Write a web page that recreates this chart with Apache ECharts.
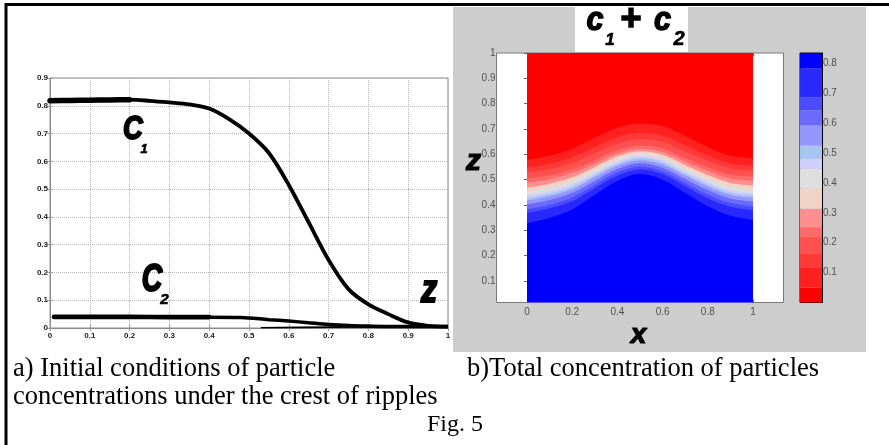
<!DOCTYPE html>
<html><head><meta charset="utf-8">
<script src="https://cdn.jsdelivr.net/npm/echarts@6/dist/echarts.min.js"></script>
<style>html,body{margin:0;padding:0;background:#fff}#c{width:889px;height:445px}</style>
</head><body><div id="c"></div>
<script>
// ---- Left panel: initial concentration profiles vs z ----
const zVals  = [0,0.05,0.1,0.15,0.2,0.25,0.3,0.35,0.4,0.45,0.5,0.55,0.6,0.65,0.7,0.75,0.8,0.85,0.9,0.95,1];
const c1Vals = [0.818,0.819,0.82,0.821,0.822,0.818,0.812,0.805,0.79,0.752,0.70,0.63,0.515,0.38,0.245,0.14,0.085,0.05,0.02,0.008,0.005];
const c2Z    = [0.01,0.1,0.2,0.3,0.4,0.48,0.55,0.6,0.65,0.7,0.75,0.8,0.9,1];
const c2Vals = [0.04,0.04,0.04,0.039,0.039,0.038,0.03,0.025,0.019,0.013,0.009,0.007,0.005,0.005];
const c3Z    = [0.53,0.7,1];
const c3Vals = [0.001,0.003,0.005];

// ---- Right panel: contour boundaries of c1+c2 (z of each level at x) ----
const heatX = [0,0.1,0.2,0.3,0.4,0.5,0.6,0.7,0.8,0.9,1];
const contourZ = [
  [.578,.594,.622,.665,.705,.722,.712,.672,.628,.594,.585],
  [.548,.563,.589,.629,.668,.685,.674,.636,.596,.564,.556],
  [.528,.542,.566,.604,.642,.660,.649,.611,.574,.544,.536],
  [.503,.517,.540,.578,.617,.635,.623,.585,.549,.520,.512],
  [.488,.502,.526,.564,.603,.622,.609,.571,.534,.505,.497],
  [.468,.484,.509,.550,.592,.612,.598,.557,.518,.487,.478],
  [.453,.469,.495,.539,.582,.603,.588,.546,.505,.473,.463],
  [.438,.455,.482,.527,.571,.593,.577,.534,.492,.459,.448],
  [.428,.445,.472,.518,.563,.585,.569,.525,.482,.450,.439],
  [.418,.435,.462,.509,.555,.577,.560,.516,.473,.440,.429],
  [.403,.420,.448,.495,.542,.565,.547,.503,.459,.426,.414],
  [.383,.401,.430,.479,.528,.552,.533,.487,.441,.408,.395],
  [.368,.387,.415,.466,.515,.540,.521,.474,.427,.393,.380],
  [.328,.349,.382,.440,.495,.522,.500,.448,.395,.357,.341]
];
const bandColors = ['#ff0000','#ff2020','#ff3838','#ff5050','#ff6a6a','#ff8f8f','#f2d4c6','#dedede',
                    '#cfcfff','#a8c4f0','#9696ff','#6a6aff','#4c4cff','#2828ff','#0000ff'];
const cbEdges = [0,0.05,0.118,0.163,0.219,0.252,0.314,0.381,0.448,0.481,0.526,0.593,0.643,0.687,0.783,0.835];
const heatXTicks = [0,0.2,0.4,0.6,0.8,1];
const heatZTicks = [0.1,0.2,0.3,0.4,0.5,0.6,0.7,0.8,0.9,1];

const pairs = (xs, ys) => xs.map((x, i) => [x, ys[i]]);
const chart = echarts.init(document.getElementById('c'), null, {renderer: 'canvas'});

const leftLbl = {fontSize: 8, fontWeight: 'bold', color: '#1a1a1a', fontFamily: 'Liberation Sans'};
const heatLbl = {fontSize: 10, color: '#505050', fontFamily: 'Liberation Sans'};
const inTick = (c) => ({show: true, inside: true, length: 3, lineStyle: {color: c || '#777'}});

const series = [];
// left panel lines
series.push({type: 'line', xAxisIndex: 0, yAxisIndex: 0, data: pairs(zVals, c1Vals), smooth: 0.3,
  symbol: 'none', lineStyle: {color: '#000', width: 3.8}, z: 5});
series.push({type: 'line', xAxisIndex: 0, yAxisIndex: 0, data: pairs(zVals.slice(0, 5), c1Vals.slice(0, 5)), smooth: 0.3,
  symbol: 'none', lineStyle: {color: '#000', width: 5.5, cap: 'round'}, z: 5});
series.push({type: 'line', xAxisIndex: 0, yAxisIndex: 0, data: pairs(c2Z, c2Vals), smooth: 0.3,
  symbol: 'none', lineStyle: {color: '#000', width: 3.5}, z: 5});
series.push({type: 'line', xAxisIndex: 0, yAxisIndex: 0, data: pairs(c2Z.slice(0, 5), c2Vals.slice(0, 5)), smooth: 0.3,
  symbol: 'none', lineStyle: {color: '#000', width: 4.6, cap: 'round'}, z: 5});
series.push({type: 'line', xAxisIndex: 0, yAxisIndex: 0, data: pairs(c3Z, c3Vals), smooth: 0.3,
  symbol: 'none', lineStyle: {color: '#000', width: 1.6}, z: 5});

// right panel filled contour bands
series.push({type: 'line', xAxisIndex: 2, yAxisIndex: 2, data: heatX.map(x => [x, 1]), symbol: 'none',
  lineStyle: {width: 0, opacity: 0}, areaStyle: {color: bandColors[0], opacity: 1, origin: 'start'}, silent: true});
contourZ.forEach((row, k) => {
  series.push({type: 'line', xAxisIndex: 2, yAxisIndex: 2, data: pairs(heatX, row), symbol: 'none', smooth: 0.35,
    lineStyle: {width: 0, opacity: 0}, areaStyle: {color: bandColors[k + 1], opacity: 1, origin: 'start'}, silent: true});
});
// colorbar
bandColors.forEach((col, i) => {
  series.push({type: 'bar', xAxisIndex: 4, yAxisIndex: 4, stack: 'cb', barWidth: '100%',
    data: [cbEdges[i + 1] - cbEdges[i]], itemStyle: {color: col}, silent: true});
});

const txt = (s, x, y, size, opts, sw) => Object.assign({
  type: 'text', x: x, y: y, z: 100,
  style: {text: s, x: 0, y: 0, align: 'center', verticalAlign: 'middle',
    font: 'italic bold ' + size + 'px "Liberation Sans"', fill: '#000', stroke: '#000', lineWidth: sw === undefined ? 1.2 : sw}
}, opts || {});
const cap = (s, x, y, align, size) => ({
  type: 'text', x: x, y: y, z: 100,
  style: {text: s, x: 0, y: 0, align: align || 'left', verticalAlign: 'middle',
    font: (size || 26.5) + 'px "Liberation Serif"', fill: '#000'}
});

const option = {
  animation: false,
  backgroundColor: '#fff',
  grid: [
    {left: 50, top: 78, width: 398, height: 250, show: true, borderColor: '#8a8a8a', borderWidth: 1, backgroundColor: 'rgba(0,0,0,0)'},
    {left: 496.5, top: 53, width: 287, height: 249.5, show: true, borderColor: '#7a7a7a', borderWidth: 1, backgroundColor: '#fff'},
    {left: 800, top: 53, width: 22, height: 249.5, show: true, borderColor: '#000', borderWidth: 1, backgroundColor: 'rgba(0,0,0,0)'}
  ],
  xAxis: [
    {gridIndex: 0, type: 'value', min: 0, max: 1, interval: 0.1, axisLine: {lineStyle: {color: '#8a8a8a'}},
      axisTick: inTick('#999'), axisLabel: Object.assign({margin: 4}, leftLbl),
      splitLine: {show: true, lineStyle: {type: 'dotted', color: '#b5b5b5', width: 1}}},
    {gridIndex: 0, type: 'value', position: 'top', min: 0, max: 1, interval: 0.1, axisLine: {show: false},
      axisTick: inTick('#999'), axisLabel: {show: false}, splitLine: {show: false}},
    {gridIndex: 1, type: 'value', min: -0.135, max: 1.135, axisLine: {show: false},
      axisTick: Object.assign(inTick('#666'), {customValues: heatXTicks}),
      axisLabel: Object.assign({margin: 5, customValues: heatXTicks}, heatLbl), splitLine: {show: false}},
    {gridIndex: 1, type: 'value', position: 'top', min: -0.135, max: 1.135, axisLine: {show: false},
      axisTick: Object.assign(inTick('#666'), {customValues: heatXTicks}), axisLabel: {show: false}, splitLine: {show: false}},
    {gridIndex: 2, type: 'category', data: ['cb'], show: false, boundaryGap: true}
  ],
  yAxis: [
    {gridIndex: 0, type: 'value', min: 0, max: 0.9, interval: 0.1, axisLine: {lineStyle: {color: '#8a8a8a'}},
      axisTick: inTick('#999'), axisLabel: Object.assign({margin: 2}, leftLbl),
      splitLine: {show: true, lineStyle: {type: 'dotted', color: '#b5b5b5', width: 1}}},
    {gridIndex: 0, type: 'value', position: 'right', min: 0, max: 0.9, interval: 0.1, axisLine: {show: false},
      axisTick: inTick('#999'), axisLabel: {show: false}, splitLine: {show: false}},
    {gridIndex: 1, type: 'value', min: 0.015, max: 1, axisLine: {show: false},
      axisTick: Object.assign(inTick('#666'), {customValues: heatZTicks}),
      axisLabel: Object.assign({margin: 1, customValues: heatZTicks}, heatLbl), splitLine: {show: false}},
    {gridIndex: 1, type: 'value', position: 'right', min: 0.015, max: 1, axisLine: {show: false},
      axisTick: Object.assign(inTick('#666'), {customValues: heatZTicks}), axisLabel: {show: false}, splitLine: {show: false}},
    {gridIndex: 2, type: 'value', position: 'right', min: 0, max: 0.835, interval: 0.1,
      axisLine: {show: true, lineStyle: {color: '#000'}}, axisTick: inTick('#222'),
      axisLabel: Object.assign({margin: 1, formatter: v => (v > 0.05 && v < 0.81) ? v.toFixed(1) : ''}, heatLbl),
      splitLine: {show: false}}
  ],
  graphic: [
    {type: 'rect', z: -10, shape: {x: 453, y: 7, width: 413, height: 345}, style: {fill: '#cdcdcd'}},
    {type: 'rect', z: -5, shape: {x: 575, y: 7, width: 113, height: 45}, style: {fill: '#ffffff'}},
    {type: 'line', z: 50, shape: {x1: 5, y1: 4.5, x2: 889, y2: 4.5}, style: {stroke: '#000', lineWidth: 3}},
    {type: 'line', z: 50, shape: {x1: 6, y1: 3, x2: 6, y2: 445}, style: {stroke: '#000', lineWidth: 3}},
    // left panel labels
    txt('C', 132.7, 129.5, 34, {scaleX: 0.8}, 2),
    txt('1', 144, 149, 13, null, 0.6),
    txt('C', 152, 281, 38, {scaleX: 0.74}, 2.2),
    txt('2', 164.5, 300, 15, null, 0.6),
    txt('z', 429, 292, 38, {scaleX: 0.85}, 2),
    // right panel title and axis names
    txt('c', 595, 21, 34, {scaleX: 0.9}, 1.5),
    txt('1', 610, 40, 17, null, 0.6),
    {type: 'text', x: 631, y: 20, z: 100, style: {text: '+', x: 0, y: 0, align: 'center', verticalAlign: 'middle',
      font: 'bold 36px "Liberation Sans"', fill: '#000', stroke: '#000', lineWidth: 1.5}},
    txt('c', 662.5, 21, 34, {scaleX: 0.9}, 1.5),
    txt('2', 679, 39, 20, null, 0.6),
    txt('z', 473.5, 162, 30, null, 1.2),
    txt('x', 638.5, 335, 28, null, 1.2),
    // captions
    cap('a) Initial conditions of particle', 13, 369),
    cap('concentrations under the crest of ripples', 13, 397),
    cap('b)Total concentration of particles', 467, 369),
    cap('Fig. 5', 455, 425, 'center', 24)
  ],
  series: series
};
chart.setOption(option);
</script>
</body></html>
